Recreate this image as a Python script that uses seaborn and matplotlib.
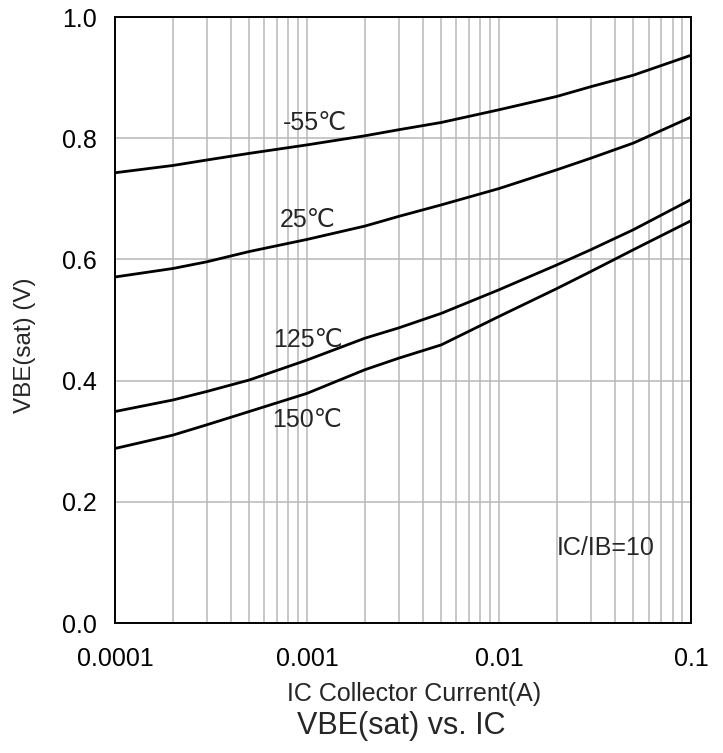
import pandas as pd
import seaborn as sns
from matplotlib import pyplot as plt
from matplotlib.ticker import LogLocator, FixedLocator, NullFormatter

# collector current (A) and VBE(sat) (V) per temperature
ic = [1e-4, 2e-4, 3e-4, 5e-4, 1e-3, 2e-3, 3e-3, 5e-3, 1e-2, 2e-2, 3e-2, 5e-2, 1e-1]
vbe_m55 = [0.743, 0.755, 0.764, 0.775, 0.789, 0.804, 0.814, 0.826, 0.847, 0.869, 0.885, 0.904, 0.937]
vbe_25 = [0.571, 0.585, 0.596, 0.613, 0.633, 0.655, 0.671, 0.690, 0.717, 0.748, 0.767, 0.792, 0.835]
vbe_125 = [0.349, 0.368, 0.382, 0.401, 0.434, 0.470, 0.487, 0.511, 0.550, 0.591, 0.616, 0.649, 0.699]
vbe_150 = [0.288, 0.310, 0.327, 0.349, 0.379, 0.418, 0.437, 0.459, 0.506, 0.552, 0.580, 0.616, 0.664]
temps = ['-55℃', '25℃', '125℃', '150℃']
x_ticks = [0.0001, 0.001, 0.01, 0.1]
x_tick_labels = ['0.0001', '0.001', '0.01', '0.1']
y_ticks = [0.0, 0.2, 0.4, 0.6, 0.8, 1.0]


def main():
    series = [vbe_m55, vbe_25, vbe_125, vbe_150]
    df = pd.concat([pd.DataFrame({'IC': ic, 'VBE': v, 'T': t}) for t, v in zip(temps, series)])

    sns.set_style('white')
    plt.rcParams['font.family'] = ['Liberation Sans', 'DejaVu Sans']

    fig = plt.figure(figsize=(7.23, 7.53), dpi=100)
    ax = fig.add_axes([0.159, 0.1726, 0.797, 0.8048])

    sns.lineplot(data=df, x='IC', y='VBE', units='T', estimator=None,
                 color='black', linewidth=2.0, ax=ax, legend=False)

    ax.set_xscale('log')
    ax.set_xlim(1e-4, 1e-1)
    ax.set_ylim(0, 1.0)
    ax.xaxis.set_major_locator(FixedLocator(x_ticks))
    ax.set_xticklabels(x_tick_labels)
    ax.xaxis.set_minor_locator(LogLocator(base=10, subs=range(2, 10)))
    ax.xaxis.set_minor_formatter(NullFormatter())
    ax.set_yticks(y_ticks)
    ax.set_yticklabels([f'{v:.1f}' for v in y_ticks])

    ax.grid(True, which='both', axis='x', color='#b8b8b8', linewidth=1.1)
    ax.grid(True, which='major', axis='y', color='#b8b8b8', linewidth=1.1)
    ax.set_axisbelow(True)
    for s in ax.spines.values():
        s.set_color('black')
        s.set_linewidth(1.4)
    ax.tick_params(axis='both', which='both', length=0, labelsize=18, colors='black')
    ax.tick_params(axis='x', pad=17.5)
    ax.tick_params(axis='y', pad=13)

    ax.set_xlabel('')
    ax.set_ylabel('')
    fig.text(0.573, 0.078, 'IC Collector Current(A)', fontsize=18, ha='center', va='center')
    fig.text(0.035, 0.542, 'VBE(sat) (V)', fontsize=17.5, ha='center', va='center', rotation=90)

    # curve labels
    ax.text(1.1e-3, 0.825, temps[0], fontsize=18, ha='center', va='center')
    ax.text(1.01e-3, 0.665, temps[1], fontsize=18, ha='center', va='center')
    ax.text(1.01e-3, 0.467, temps[2], fontsize=18, ha='center', va='center')
    ax.text(1.0e-3, 0.335, temps[3], fontsize=18, ha='center', va='center')
    ax.text(0.036, 0.124, 'IC/IB=10', fontsize=18, ha='center', va='center')

    fig.text(0.555, 0.036, 'VBE(sat) vs. IC', fontsize=22, ha='center', va='center')

    fig.savefig('out.png', dpi=100)


if __name__ == '__main__':
    main()
